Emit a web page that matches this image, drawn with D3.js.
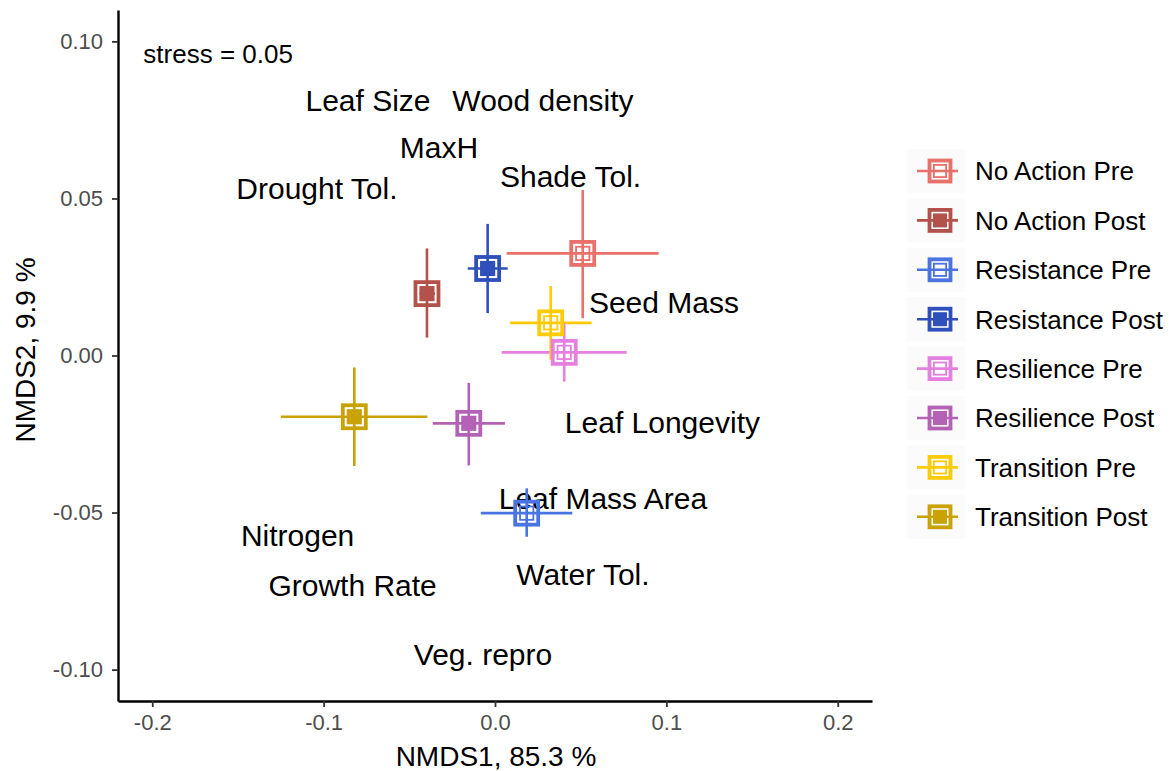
<!DOCTYPE html>
<html>
<head>
<meta charset="utf-8">
<script src="https://cdn.jsdelivr.net/npm/d3@7"></script>
<style>
  body { margin: 0; background: #fff; }
  svg text { font-family: "Liberation Sans", Arial, Helvetica, sans-serif; }
</style>
</head>
<body>
<div id="chart"></div>
<script>
// groups (treatment x period)
var groups = ["No Action Pre", "No Action Post", "Resistance Pre", "Resistance Post",
              "Resilience Pre", "Resilience Post", "Transition Pre", "Transition Post"];
var colors = ["#E8716A", "#B3524A", "#4A74E2", "#2F50BA", "#E57FE0", "#B462B6", "#FFCB05", "#C9A205"];
var isPost = [false, true, false, true, false, true, false, true];

// centroid scores
var nmds1 = [0.0512, -0.0397, 0.0185, -0.0043, 0.0404, -0.0153, 0.0325, -0.0821];
var nmds2 = [0.0325, 0.0197, -0.0502, 0.0277, 0.0010, -0.0216, 0.0104, -0.0195];
// error bar ends
var x_lo = [0.0068, -0.0440, -0.0083, -0.0159, 0.0039, -0.0363, 0.0088, -0.1250];
var x_hi = [0.0955, -0.0350, 0.0451, 0.0074, 0.0768, 0.0058, 0.0564, -0.0395];
var y_lo = [0.0119, 0.0057, -0.0577, 0.0135, -0.0083, -0.0350, -0.0014, -0.0352];
var y_hi = [0.0527, 0.0341, -0.0423, 0.0419, 0.0104, -0.0087, 0.0221, -0.0038];

// trait vectors (labels only)
var traits = ["Leaf Size", "Wood density", "MaxH", "Drought Tol.", "Shade Tol.", "Seed Mass",
              "Leaf Longevity", "Leaf Mass Area", "Nitrogen", "Growth Rate", "Water Tol.", "Veg. repro"];
var trait_x = [-0.0741, 0.0280, -0.0327, -0.1039, 0.0441, 0.0986, 0.0977, 0.0630, -0.1152, -0.0831, 0.0513, -0.0070];
var trait_y = [0.0813, 0.0813, 0.0663, 0.0533, 0.0571, 0.0170, -0.0212, -0.0454, -0.0571, -0.0730, -0.0696, -0.0950];

var xTicks = [-0.2, -0.1, 0.0, 0.1, 0.2];
var yTicks = [-0.10, -0.05, 0.00, 0.05, 0.10];

var width = 1175, height = 771;
var mLeft = 118, mRight = 872, mTop = 10, mBottom = 701;

var svg = d3.select('#chart').append('svg')
    .attr('width', width)
    .attr('height', height);

var x = d3.scaleLinear().domain([-0.22, 0.22]).range([mLeft, mRight]);
var y = d3.scaleLinear().domain([-0.11, 0.11]).range([mBottom, mTop]);

// axes
var xAxis = svg.append('g')
    .attr('transform', 'translate(0,' + mBottom + ')')
    .call(d3.axisBottom(x).tickValues(xTicks).tickSize(6).tickSizeOuter(0).tickFormat(d3.format('.1f')));
xAxis.select('.domain').attr('stroke', '#000').attr('stroke-width', 2.4);
xAxis.selectAll('.tick line').attr('stroke', '#333').attr('stroke-width', 1.8);
xAxis.selectAll('.tick text')
    .attr('y', 21.7).attr('dy', '0.35em')
    .attr('fill', '#4D4D4D').style('font-size', '22px');

var yAxis = svg.append('g')
    .attr('transform', 'translate(' + mLeft + ',0)')
    .call(d3.axisLeft(y).tickValues(yTicks).tickSize(6).tickSizeOuter(0).tickPadding(9).tickFormat(d3.format('.2f')));
yAxis.select('.domain').attr('stroke', '#000').attr('stroke-width', 2.4);
yAxis.selectAll('.tick line').attr('stroke', '#333').attr('stroke-width', 1.8);
yAxis.selectAll('.tick text')
    .attr('fill', '#4D4D4D').style('font-size', '22px');

// hyphen instead of unicode minus, like the original
svg.selectAll('.tick text').text(function () {
    return d3.select(this).text().replace('\u2212', '-');
});

// axis titles
svg.append('text')
    .attr('x', 496).attr('y', 766)
    .attr('text-anchor', 'middle')
    .style('font-size', '28px')
    .text('NMDS1, 85.3 %');

svg.append('text')
    .attr('transform', 'translate(35,350) rotate(-90)')
    .attr('text-anchor', 'middle')
    .style('font-size', '28px')
    .text('NMDS2, 9.9 %');

// stress annotation
svg.append('text')
    .attr('x', x(-0.2052)).attr('y', y(0.0960))
    .attr('dy', '0.36em')
    .style('font-size', '26px')
    .text('stress = 0.05');

// trait labels
svg.append('g').selectAll('text')
    .data(traits)
    .enter()
    .append('text')
    .attr('x', function (d, i) { return x(trait_x[i]); })
    .attr('y', function (d, i) { return y(trait_y[i]); })
    .attr('dy', '0.36em')
    .attr('text-anchor', 'middle')
    .style('font-size', '30px')
    .text(function (d) { return d; });

// group data
var pts = groups.map(function (g, i) {
    return { name: g, col: colors[i], post: isPost[i], x: nmds1[i], y: nmds2[i],
             xl: x_lo[i], xh: x_hi[i], yl: y_lo[i], yh: y_hi[i] };
});

// error bars
var bars = svg.append('g');
bars.selectAll('line.h')
    .data(pts).enter().append('line')
    .attr('class', 'h')
    .attr('x1', function (d) { return x(d.xl); })
    .attr('x2', function (d) { return x(d.xh); })
    .attr('y1', function (d) { return y(d.y); })
    .attr('y2', function (d) { return y(d.y); })
    .attr('stroke', function (d) { return d.col; })
    .attr('stroke-width', 2.6);
bars.selectAll('line.v')
    .data(pts).enter().append('line')
    .attr('class', 'v')
    .attr('x1', function (d) { return x(d.x); })
    .attr('x2', function (d) { return x(d.x); })
    .attr('y1', function (d) { return y(d.yl); })
    .attr('y2', function (d) { return y(d.yh); })
    .attr('stroke', function (d) { return d.col; })
    .attr('stroke-width', 2.6);

// square markers
function marker(sel, s) {
    sel.append('rect')
        .attr('x', -s / 2).attr('y', -s / 2)
        .attr('width', s).attr('height', s)
        .attr('fill', 'none')
        .attr('stroke', function (d) { return d.col; })
        .attr('stroke-width', 3.8);
    var s2 = s * 0.58;
    sel.append('rect')
        .attr('x', -s2 / 2).attr('y', -s2 / 2)
        .attr('width', s2).attr('height', s2)
        .attr('fill', function (d) { return d.post ? d.col : 'none'; })
        .attr('stroke', function (d) { return d.col; })
        .attr('stroke-width', 1.8);
}

var marks = svg.append('g').selectAll('g')
    .data(pts).enter().append('g')
    .attr('transform', function (d) { return 'translate(' + x(d.x) + ',' + y(d.y) + ')'; });
marker(marks, 23);

// legend
var legend = svg.append('g').selectAll('g')
    .data(pts).enter().append('g')
    .attr('transform', function (d, i) { return 'translate(940,' + (171 + i * 49.4) + ')'; });
legend.append('rect')
    .attr('x', -33).attr('y', -22)
    .attr('width', 58).attr('height', 44)
    .attr('fill', '#FBFBFB');
legend.append('line')
    .attr('x1', -23).attr('x2', 18)
    .attr('stroke', function (d) { return d.col; })
    .attr('stroke-width', 2.6);
marker(legend, 21);
legend.append('text')
    .attr('x', 35).attr('dy', '0.36em')
    .style('font-size', '26px')
    .text(function (d) { return d.name; });
</script>
</body>
</html>
